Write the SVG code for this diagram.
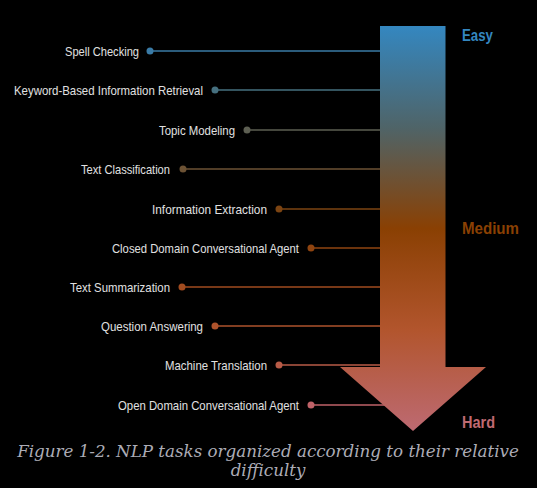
<svg xmlns="http://www.w3.org/2000/svg" width="537" height="488" viewBox="0 0 537 488">
<style>
.lbl{font-family:"Ubuntu Condensed","Liberation Sans",Arial,sans-serif;font-size:13px;fill:#e0e0e0;text-anchor:end}
.lvl{font-family:"Liberation Sans",Arial,sans-serif;font-size:16px;font-weight:bold}
.cap{font-family:"DejaVu Serif",serif;font-style:italic;font-size:16.7px;fill:#acacb6;text-anchor:middle}
line{stroke-width:1.5}
</style>
<defs>
<linearGradient id="g" gradientUnits="userSpaceOnUse" x1="0" y1="26" x2="0" y2="431">
<stop offset="0" stop-color="#3487c0"/>
<stop offset="0.25" stop-color="#4f6468"/>
<stop offset="0.5" stop-color="#8a4003"/>
<stop offset="0.75" stop-color="#b2552d"/>
<stop offset="1" stop-color="#bd6a72"/>
</linearGradient>
</defs>
<rect width="537" height="488" fill="#000"/>
<g id="connectors">
<line x1="150" y1="51" x2="381" y2="51" stroke="#3a7ba6"/>
<line x1="215" y1="90" x2="381" y2="90" stroke="#46707f"/>
<line x1="247" y1="130" x2="381" y2="130" stroke="#5d5f52"/>
<line x1="183" y1="169" x2="381" y2="169" stroke="#6c5234"/>
<line x1="279" y1="209" x2="381" y2="209" stroke="#7c4412"/>
<line x1="311" y1="248" x2="381" y2="248" stroke="#8f4410"/>
<line x1="182" y1="287" x2="381" y2="287" stroke="#a14b1f"/>
<line x1="215" y1="326" x2="381" y2="326" stroke="#ae532c"/>
<line x1="279" y1="365" x2="381" y2="365" stroke="#b85b47"/>
<line x1="311" y1="405" x2="385" y2="405" stroke="#bf6268"/>
</g>
<g id="arrow">
<path d="M380,26 H445.5 V367 H486 L413,431 L340,367 H380 Z" fill="url(#g)"/>
</g>
<g id="n1"><circle cx="150" cy="51" r="3.5" fill="#3a7ba6"/><text class="lbl" x="139" y="56" textLength="74" lengthAdjust="spacingAndGlyphs">Spell Checking</text></g>
<g id="n2"><circle cx="215" cy="90" r="3.5" fill="#46707f"/><text class="lbl" x="203" y="95" textLength="189" lengthAdjust="spacingAndGlyphs">Keyword-Based Information Retrieval</text></g>
<g id="n3"><circle cx="247" cy="130" r="3.5" fill="#5d5f52"/><text class="lbl" x="235" y="135" textLength="76" lengthAdjust="spacingAndGlyphs">Topic Modeling</text></g>
<g id="n4"><circle cx="183" cy="169" r="3.5" fill="#6c5234"/><text class="lbl" x="170" y="174" textLength="89" lengthAdjust="spacingAndGlyphs">Text Classification</text></g>
<g id="n5"><circle cx="279" cy="209" r="3.5" fill="#7c4412"/><text class="lbl" x="267" y="214" textLength="115" lengthAdjust="spacingAndGlyphs">Information Extraction</text></g>
<g id="n6"><circle cx="311" cy="248" r="3.5" fill="#8f4410"/><text class="lbl" x="299" y="253" textLength="187" lengthAdjust="spacingAndGlyphs">Closed Domain Conversational Agent</text></g>
<g id="n7"><circle cx="182" cy="287" r="3.5" fill="#a14b1f"/><text class="lbl" x="170" y="292" textLength="100" lengthAdjust="spacingAndGlyphs">Text Summarization</text></g>
<g id="n8"><circle cx="215" cy="326" r="3.5" fill="#ae532c"/><text class="lbl" x="203" y="331" textLength="102" lengthAdjust="spacingAndGlyphs">Question Answering</text></g>
<g id="n9"><circle cx="279" cy="365" r="3.5" fill="#b85b47"/><text class="lbl" x="267" y="370" textLength="102" lengthAdjust="spacingAndGlyphs">Machine Translation</text></g>
<g id="n10"><circle cx="311" cy="405" r="3.5" fill="#bf6268"/><text class="lbl" x="299" y="410" textLength="181" lengthAdjust="spacingAndGlyphs">Open Domain Conversational Agent</text></g>
<g id="levels">
<text class="lvl" x="462" y="40.5" fill="#3487c0" textLength="31" lengthAdjust="spacingAndGlyphs">Easy</text>
<text class="lvl" x="462" y="234" fill="#8a4003" textLength="57" lengthAdjust="spacingAndGlyphs">Medium</text>
<text class="lvl" x="462" y="428" fill="#c06a72" textLength="33" lengthAdjust="spacingAndGlyphs">Hard</text>
</g>
<g id="caption">
<text class="cap" x="268" y="457">Figure 1-2. NLP tasks organized according to their relative</text>
<text class="cap" x="268" y="476">difficulty</text>
</g>
</svg>
